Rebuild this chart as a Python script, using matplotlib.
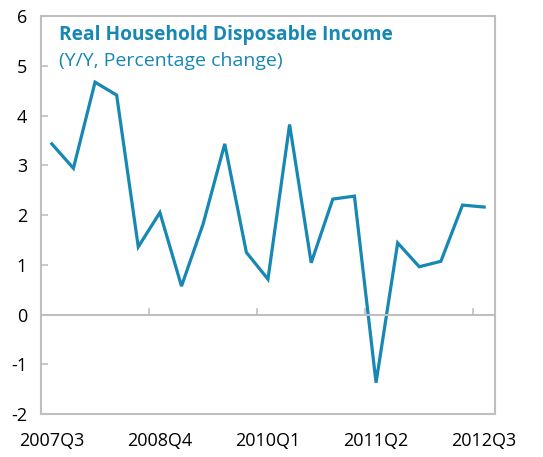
import matplotlib
matplotlib.use("Agg")
import matplotlib.pyplot as plt
import numpy as np

plt.rcParams['font.family'] = ['Open Sans', 'DejaVu Sans']

quarters = ['2007Q3', '2007Q4', '2008Q1', '2008Q2', '2008Q3', '2008Q4', '2009Q1',
            '2009Q2', '2009Q3', '2009Q4', '2010Q1', '2010Q2', '2010Q3', '2010Q4',
            '2011Q1', '2011Q2', '2011Q3', '2011Q4', '2012Q1', '2012Q2', '2012Q3']
income = [3.43, 2.94, 4.67, 4.41, 1.36, 2.05, 0.57, 1.82, 3.43, 1.25, 0.71,
          3.82, 1.04, 2.32, 2.38, -1.37, 1.44, 0.96, 1.07, 2.20, 2.16]
shown_labels = ['2007Q3', '2008Q4', '2010Q1', '2011Q2', '2012Q3']

blue = '#1787b3'
grey = '#bfbfbf'

fig = plt.figure(figsize=(5.43, 4.57), dpi=100)
ax = fig.add_axes([0.0755, 0.094, 0.836, 0.871])

x = np.arange(len(quarters))
ax.plot(x, income, color=blue, lw=2.3, solid_joinstyle='miter')

ax.set_xlim(-0.5, len(quarters) - 0.5)
ax.set_ylim(-2, 6)
ax.set_yticks(range(-2, 7))
ax.set_yticklabels([str(v) for v in range(-2, 7)], fontsize=13)

# category boundaries every 5 quarters, ticks drawn on the zero line
for b in [4.5, 9.5, 14.5, 19.5]:
    ax.plot([b, b], [0, 0.12], color=grey, lw=1.2)
ax.axhline(0, color=grey, lw=1.5)

ax.set_xticks([quarters.index(q) for q in shown_labels])
ax.set_xticklabels(shown_labels, fontsize=13)
ax.tick_params(axis='x', length=0, pad=13)
ax.tick_params(axis='y', direction='in', length=5, color=grey, width=1.2, pad=10)

for s in ax.spines.values():
    s.set_color(grey)
    s.set_linewidth(1.5)

ax.text(0.04, 0.952, 'Real Household Disposable Income', transform=ax.transAxes,
        color=blue, fontsize=13.8, fontweight='bold', va='center')
ax.text(0.04, 0.887, '(Y/Y, Percentage change)', transform=ax.transAxes,
        color=blue, fontsize=14, va='center')

fig.savefig('out.png', dpi=100)
